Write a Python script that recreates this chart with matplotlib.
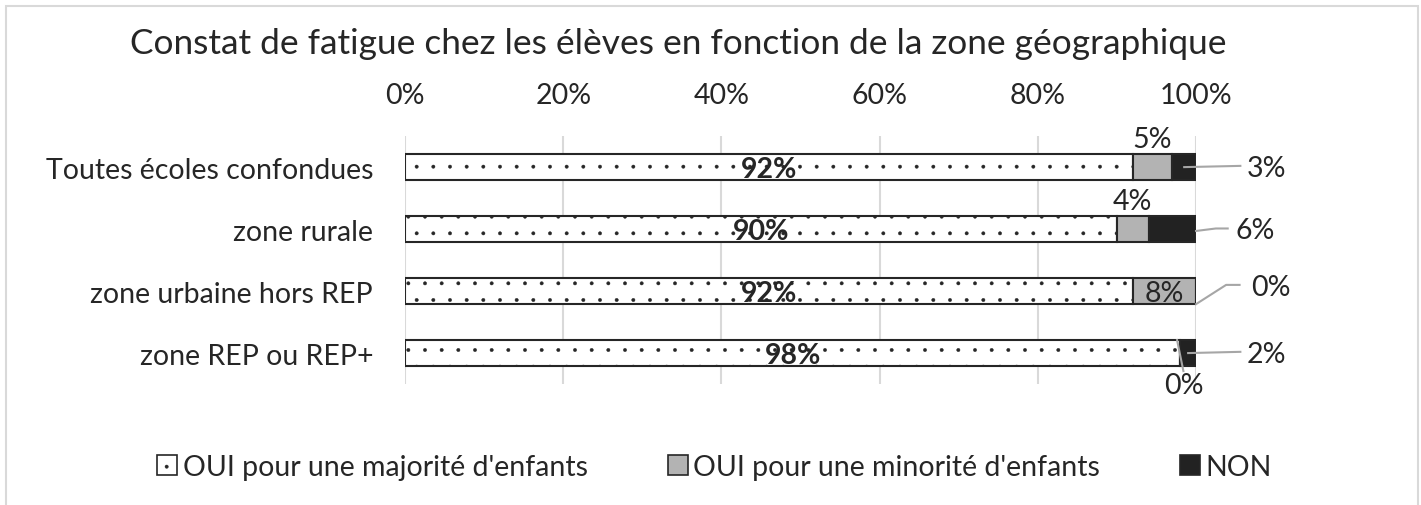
import numpy as np
import matplotlib.pyplot as plt
from matplotlib.patches import Patch, Rectangle

plt.rcParams['font.family'] = ['Lato', 'DejaVu Sans']
plt.rcParams['hatch.linewidth'] = 0.3
plt.rcParams['hatch.color'] = '#555555'

# Données
zones = ['Toutes écoles confondues', 'zone rurale', 'zone urbaine hors REP', 'zone REP ou REP+']
oui_majorite = [92, 90, 92, 98]
oui_minorite = [5, 4, 8, 0]
non = [3, 6, 0, 2]
series = ["OUI pour une majorité d'enfants", "OUI pour une minorité d'enfants", 'NON']
xticks = [0, 20, 40, 60, 80, 100]

fs = 20.5
txt = '#262626'

fig = plt.figure(figsize=(14.21, 5.06), dpi=100)
ax = fig.add_axes([0.285, 0.239, 0.5567, 0.49])

# cadre gris autour du graphique
fig.patches.append(Rectangle((0.0045, -0.05), 0.9935, 1.036, transform=fig.transFigure,
                             fill=False, edgecolor='#d9d9d9', linewidth=1.5))

y = np.arange(len(zones))
h = 0.42
maj = np.array(oui_majorite)
mino = np.array(oui_minorite)
nn = np.array(non)

ax.barh(y, maj, height=h, color='white', edgecolor=txt, hatch='.', linewidth=1.5, zorder=3)
ax.barh(y, mino, left=maj, height=h, color='#b3b3b3', edgecolor=txt, linewidth=1.5, zorder=3)
ax.barh(y, nn, left=maj + mino, height=h, color='#222222', edgecolor=txt, linewidth=1.5, zorder=3)

ax.set_xlim(0, 100)
ax.set_ylim(len(zones) - 0.5, -0.5)
ax.set_yticks(y)
ax.set_yticklabels(zones, fontsize=fs, color=txt)
ax.set_xticks(xticks)
ax.set_xticklabels([f'{v}%' for v in xticks], fontsize=fs, color=txt)
ax.xaxis.tick_top()
ax.tick_params(axis='both', length=0)
ax.tick_params(axis='x', pad=20)
ax.tick_params(axis='y', pad=23)
ax.grid(axis='x', color='#d9d9d9', linewidth=1.5, zorder=0)
for s in ax.spines.values():
    s.set_visible(False)

ax.set_title('Constat de fatigue chez les élèves en fonction de la zone géographique',
             fontsize=25.4, color=txt, pad=60, x=0.346)

lc = '#a6a6a6'
for i in range(len(zones)):
    # étiquettes en gras au centre
    ax.text(maj[i] / 2, y[i] + 0.03, f'{maj[i]}%', ha='center', va='center',
            fontsize=fs, fontweight='bold', color=txt, zorder=5)
    # minorité
    xm = maj[i] + mino[i] / 2
    if i < 2:
        ax.text(xm, y[i] - h / 2 - 0.03, f'{mino[i]}%', ha='center', va='bottom',
                fontsize=fs, color=txt, zorder=5)
    elif mino[i] >= 5:
        ax.text(xm, y[i] + 0.03, f'{mino[i]}%', ha='center', va='center',
                fontsize=fs, color=txt, zorder=5)
    else:
        ax.plot([xm - 0.4, xm + 0.4], [y[i] - h / 2, y[i] + h / 2 + 0.08], color=lc, lw=1.5,
                clip_on=False, zorder=4)
        ax.text(xm + 0.4, y[i] + h / 2 + 0.1, f'{mino[i]}%', ha='center', va='top',
                fontsize=fs, color=txt, zorder=5)
    # NON avec lignes de rappel
    end = maj[i] + mino[i] + nn[i]
    if i == 2:
        ax.plot([end, end + 3.8, end + 5.5], [y[i] + h / 2, y[i] - 0.1, y[i] - 0.1],
                color=lc, lw=1.5, clip_on=False, zorder=4)
        ax.text(end + 7.0, y[i] - 0.07, f'{nn[i]}%', ha='left', va='center',
                fontsize=fs, color=txt)
    elif i == 1:
        ax.plot([end, end + 2.5, end + 4.0], [y[i] + 0.03, y[i] - 0.01, y[i] - 0.01],
                color=lc, lw=1.5, clip_on=False, zorder=4)
        ax.text(end + 5.0, y[i] + 0.01, f'{nn[i]}%', ha='left', va='center',
                fontsize=fs, color=txt)
    else:
        ax.plot([end - nn[i] / 2, end + 5.6], [y[i], y[i] - 0.02],
                color=lc, lw=1.5, clip_on=False, zorder=4)
        ax.text(end + 6.4, y[i] + 0.01, f'{nn[i]}%', ha='left', va='center',
                fontsize=fs, color=txt)

handles = [Patch(facecolor='white', edgecolor=txt, hatch='.', linewidth=1.2),
           Patch(facecolor='#b3b3b3', edgecolor=txt, linewidth=1.2),
           Patch(facecolor='#222222', edgecolor=txt, linewidth=1.2)]
fig.legend(handles, series, loc='center', bbox_to_anchor=(0.503, 0.075), ncol=3,
           frameon=False, fontsize=fs, handlelength=0.7, handleheight=0.7,
           handletextpad=0.2, columnspacing=2.8, labelcolor=txt)

fig.savefig('out.png', dpi=100)
